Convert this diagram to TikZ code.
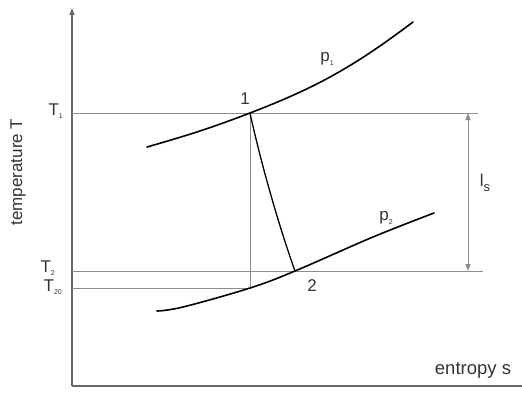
\documentclass[tikz,border=0pt]{standalone}
\usepackage{fontspec}
\setmainfont{Liberation Sans}
\usetikzlibrary{arrows.meta}
\definecolor{achse}{HTML}{666666}
\definecolor{hilfs}{HTML}{8C8C8C}
\definecolor{schrift}{HTML}{333333}
\newcommand{\klein}[1]{\raisebox{-0.4ex}{\fontsize{7}{7}\selectfont #1}}
\tikzset{
  kurve/.style={line width=1.6pt, black, line cap=round},
  hilfslinie/.style={line width=1pt, hilfs},
  beschr/.style={text=schrift, font=\fontsize{17}{19}\selectfont, inner sep=0pt},
}
\begin{document}
\begin{tikzpicture}[x=1pt,y=1pt]
    \useasboundingbox (0,0) rectangle (522,392);
    \coordinate (O)   at (72,6);                                            % Ursprung
    \coordinate (Y)   at (72,384);                                          % Achse oben
    \coordinate (X)   at (522,6);                                           % Achse rechts
    \coordinate (P1)  at (250,279);                                         % Zustand 1
    \coordinate (P2)  at (295,121);                                         % Zustand 2
    \coordinate (P20) at (250,104);                                         % Zustand 2s
    \coordinate (T1e) at (478,279);
    \coordinate (T2e) at (483,121);
    \coordinate (LsO) at (468,279);
    \coordinate (LsU) at (468,121);
    \draw[line width=1.4pt, achse, -{Triangle[length=7pt,width=5pt]}] (O) -- (Y); % Achse T
    \draw[line width=1.4pt, achse] (O) -- (X);                              % Achse s
    \draw[hilfslinie] (O |- P1) -- (T1e);                                   % T1
    \draw[hilfslinie] (O |- P2) -- (T2e);                                   % T2
    \draw[hilfslinie] (O |- P20) -- (P20) -- (P1);                          % T2s
    \draw[hilfslinie, {Triangle[length=7pt,width=5pt]}-{Triangle[length=7pt,width=5pt]}] (LsO) -- (LsU); % ls
    \draw[kurve] (147,245) to[out=16, in=201] (P1) to[out=21, in=217] (413,370); % p1
    \draw[kurve] plot[smooth, tension=0.6] coordinates {(157,81) (183,85) (P20) (P2) (373,155) (434,179)}; % p2
    \draw[line width=1.3pt] (P1) .. controls (258,242) and (275,177) .. (P2); % Expansion
    \node[beschr] (n1)  at (245,293) {1};
    \node[beschr] (n2)  at (312,106) {2};
    \node[beschr] (np1) at (327,333) {p\klein{1}};
    \node[beschr] (np2) at (386,174) {p\klein{2}};
    \node[beschr, anchor=east] (nT1)  at (63,281) {T\klein{1}};
    \node[beschr, anchor=east] (nT2)  at (55,124) {T\klein{2}};
    \node[beschr, anchor=east] (nT20) at (62,105) {T\klein{20}};
    \node[beschr] (nls) at (485,209) {l\raisebox{-0.5ex}{\fontsize{13}{13}\selectfont s}};
    \node[beschr, rotate=90] (nT) at (18,220) {temperature T};
    \node[beschr, font=\fontsize{18.5}{20}\selectfont] (ns) at (473,22) {entropy s};
\end{tikzpicture}
\end{document}
